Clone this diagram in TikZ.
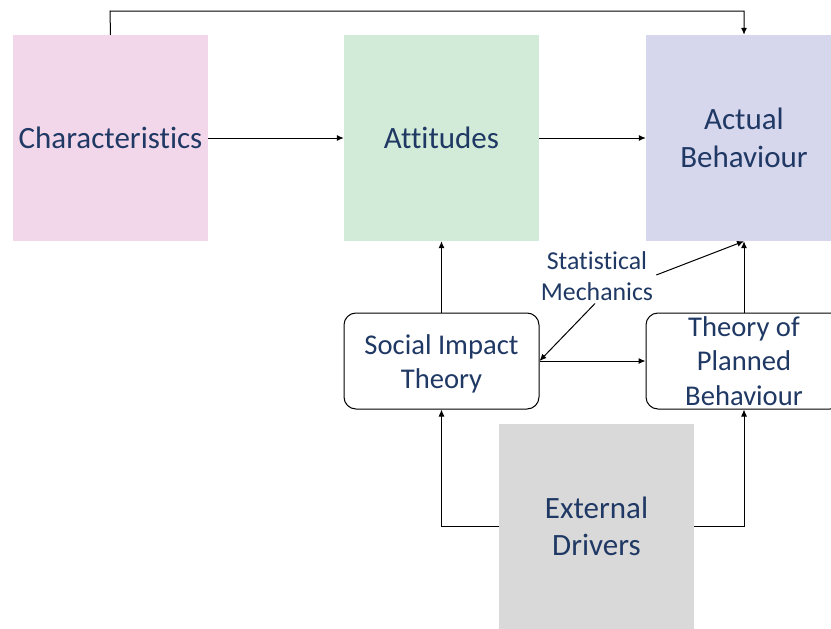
\documentclass[tikz,border=0pt]{standalone}
\usepackage{fontspec}
\setmainfont{Carlito}[RawFeature={-liga}]
\usetikzlibrary{arrows.meta}
\definecolor{txt}{HTML}{1F3864}
\definecolor{pinkf}{HTML}{F2D7EA}
\definecolor{greenf}{HTML}{D1EBD8}
\definecolor{lavf}{HTML}{D6D6EC}
\definecolor{grayf}{HTML}{D9D9D9}
\newcommand{\dn}[1]{\raisebox{-3pt}[\height][\depth]{#1}}
\begin{document}
\begin{tikzpicture}[x=1pt,y=-1pt,
  bigbox/.style={draw=none,inner sep=0pt,text=txt,align=center,font=\fontsize{31}{37.5}\selectfont},
  roundbox/.style={draw=black,line width=1pt,rounded corners=12pt,fill=white,inner sep=0pt,text=txt,align=center,font=\fontsize{28.6}{34.5}\selectfont},
  conn/.style={draw=black,line width=1pt,-{Latex[length=7pt,width=6pt]}}]
\useasboundingbox (0,0) rectangle (831,629);
% boxes
\path[fill=pinkf] (13,35) rectangle (208,241);
\node[bigbox,minimum width=195pt,minimum height=206pt] (ch) at (110.5,138) {Characteristics};
\path[fill=greenf] (344,35) rectangle (539,241);
\node[bigbox,minimum width=195pt,minimum height=206pt] (at) at (441.5,138) {Attitudes};
\path[fill=lavf] (646,35) rectangle (833,241);
\node[bigbox,minimum width=196pt,minimum height=206pt] (ab) at (744,138) {Actual\\Behaviour};
\path[fill=grayf] (499,424) rectangle (694,629);
\node[bigbox,minimum width=195pt,minimum height=205pt] (ed) at (596.5,526.5) {External\\Drivers};
\node[roundbox,minimum width=195pt,minimum height=96pt] (sit) at (441.5,361) {\dn{Social Impact}\\\dn{Theory}};
\node[roundbox,minimum width=196pt,minimum height=96pt] (tpb) at (744,361) {Theory of\\Planned\\Behaviour};
\node[text=txt,align=center,inner sep=0pt,font=\fontsize{25.8}{30.5}\selectfont] (sm) at (597,276) {Statistical\\Mechanics};
% coordinates
\coordinate (top1) at (110,11);
\coordinate (top2) at (744,11);
% connectors
\draw[conn] (ch.north) -- (top1) -- (top2) -- (ab.north);
\draw[conn] (ch.east) -- (at.west);
\draw[conn] (at.east) -- (ab.west);
\draw[conn] (sit.north) -- (at.south);
\draw[conn] (tpb.north) -- (ab.south);
\draw[conn] (sit.east) -- (tpb.west);
\draw[conn] (sm.south) ++(-2,3) -- (sit.east);
\draw[conn] (sm.east) ++(3,-1) -- (ab.south);
\draw[conn] (ed.west) -| (sit.south);
\draw[conn] (ed.east) -| (tpb.south);
\end{tikzpicture}
\end{document}
